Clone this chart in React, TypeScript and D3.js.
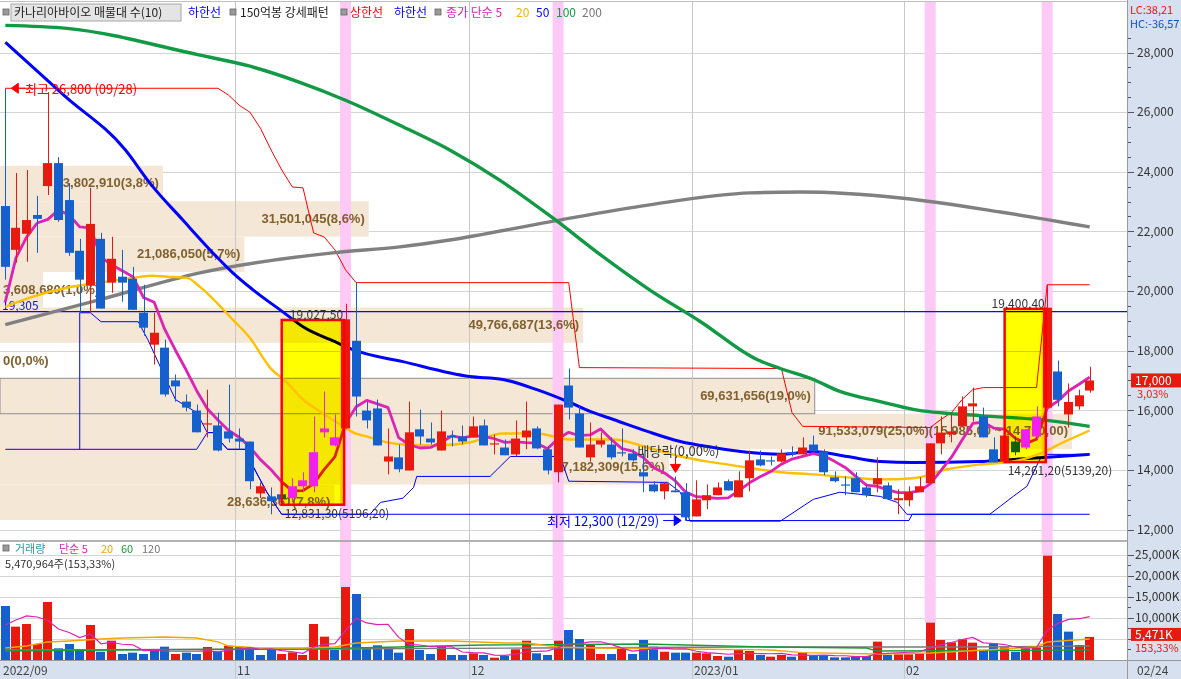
import { useEffect, useRef } from "react";
import * as d3 from "d3";

// daily candles 2022-09-28 .. 2023-02-24
const opens = [22850, 21380, 21920, 22550, 23520, 24290, 23050, 21350, 20180, 21750, 20280, 20480, 20410, 19270, 18200, 18100, 17000, 16290, 15990, 15540, 15490, 15290, 15050, 14950, 13210, 13110, 13180, 13050, 13450, 13450, 15260, 14820, 15390, 18330, 15990, 16060, 14280, 14420, 13980, 15360, 15050, 14650, 15150, 15120, 15090, 15490, 14870, 14750, 14520, 15090, 15390, 14690, 13920, 16830, 15890, 14420, 14850, 14850, 14590, 14550, 13920, 13510, 13280, 13310, 13250, 12440, 12980, 13150, 13620, 13080, 13720, 14350, 14320, 14280, 14590, 14520, 14850, 14620, 13750, 13510, 13720, 13410, 13510, 13480, 12980, 12980, 13250, 13550, 14890, 15190, 15460, 16130, 15790, 14690, 14280, 14950, 14750, 15120, 16090, 17300, 15860, 16130, 16660];
const highs = [26800, 23960, 24060, 23190, 26670, 24490, 23620, 21750, 23460, 21950, 21820, 21380, 20810, 20210, 19270, 18370, 17200, 16530, 16190, 16690, 15920, 16860, 15390, 14950, 13580, 13410, 13350, 13720, 13920, 15790, 16630, 15860, 19570, 20280, 16290, 16360, 15390, 14850, 16290, 16020, 15590, 15990, 15320, 15490, 15790, 15690, 15190, 15020, 15660, 16290, 15460, 14790, 16190, 17400, 16130, 15590, 15260, 15090, 15390, 14690, 14550, 13620, 13580, 13780, 13550, 13650, 13510, 13580, 13680, 13950, 14650, 14650, 14450, 14690, 14790, 15090, 15150, 14690, 13950, 13780, 13920, 13510, 14420, 13580, 13350, 13450, 13750, 14890, 15790, 15920, 16460, 16760, 16090, 15090, 15150, 15120, 15360, 16130, 20210, 17670, 16900, 16690, 17460];
const lows = [20380, 20950, 20980, 21280, 23220, 22320, 21180, 19270, 19270, 19410, 19940, 19640, 19370, 18500, 17530, 16460, 16290, 15960, 15260, 15090, 14620, 14920, 14690, 13350, 13050, 12510, 12830, 12910, 13250, 13250, 15090, 14790, 15390, 15790, 15390, 14820, 13850, 13920, 13980, 14850, 14850, 14650, 14790, 14850, 15090, 14820, 14520, 14490, 14450, 14690, 14690, 13850, 13580, 15690, 14750, 14280, 14750, 14350, 14450, 14280, 13250, 13250, 13010, 13250, 12300, 12440, 12680, 13150, 13310, 13080, 13280, 14120, 14150, 14250, 14450, 14520, 14620, 13820, 13580, 13150, 13250, 13080, 13250, 13020, 12510, 12780, 13250, 13550, 14520, 14920, 15460, 15620, 15090, 14250, 14260, 14490, 14690, 15020, 16090, 16130, 15420, 16020, 16590];
const closes = [20810, 22120, 22380, 22420, 24290, 22380, 21280, 20380, 22250, 19410, 21080, 20280, 19370, 18770, 18600, 16530, 16800, 16090, 15260, 15560, 14650, 15050, 14950, 13620, 13450, 12950, 13010, 13450, 13650, 14590, 15390, 15090, 19050, 16460, 15660, 14820, 14450, 14020, 15260, 15120, 14920, 15290, 15100, 14950, 15460, 14820, 14890, 14490, 15050, 15320, 14720, 13980, 16190, 16090, 14750, 14850, 14990, 14420, 14550, 14320, 13780, 13280, 13550, 13250, 12410, 13010, 13150, 13410, 13310, 13650, 14320, 14150, 14280, 14550, 14520, 14750, 14620, 13920, 13620, 13500, 13250, 13150, 13720, 13020, 13050, 13250, 13450, 14890, 15250, 15290, 16130, 16230, 15090, 14250, 15150, 14590, 15360, 15790, 19440, 16350, 16280, 16500, 17000];
// volume, thousands of shares
const volumes = [12800, 7900, 8530, 3790, 13750, 2770, 3790, 2370, 8300, 1970, 4580, 1420, 1740, 1420, 2610, 3160, 1420, 1740, 1420, 3080, 1970, 3400, 3160, 3000, 1190, 2370, 1420, 1820, 1190, 8530, 5530, 2370, 17300, 15640, 3080, 3480, 2840, 1740, 7350, 2370, 1420, 3320, 1190, 1190, 1580, 1190, 550, 950, 2530, 4580, 1580, 1190, 4580, 7110, 4980, 3560, 1420, 1420, 2770, 1420, 4740, 3160, 1970, 1740, 1740, 1740, 1580, 950, 790, 2530, 2130, 1190, 790, 1190, 790, 1740, 1030, 1030, 630, 630, 790, 950, 4350, 1190, 1340, 1340, 1580, 8850, 4740, 4190, 4900, 4110, 2370, 3950, 3000, 1970, 2770, 3000, 24730, 10900, 6720, 3560, 5471];

const patternIdx = [27, 28, 29, 30, 31, 96, 97];
const stripeIdx = [32, 52, 87, 98];

// moving averages: [candle index, value]
const ma5Head = [19640, 21110, 21810, 22280];
const ma20Pts = [[0, 19470], [2.6, 19810], [5.8, 20110], [8.9, 20280], [12, 20440], [13.9, 20510], [15.2, 20480], [17.1, 20440], [18.3, 20140], [21.4, 19040], [23, 18430], [24.9, 17430], [26.5, 16930], [28, 16360], [29.6, 15960], [31.2, 15590], [32.7, 15260], [34.3, 15090], [35.9, 14920], [37.4, 14850], [40.6, 14820], [43.7, 14920], [46.8, 15220], [50, 15220], [53.1, 15020], [57.2, 15020], [60.4, 14750], [63.5, 14450], [66.6, 14250], [69.8, 14080], [72.9, 13920], [76, 13850], [79.2, 13750], [82.3, 13680], [85.4, 13720], [88.6, 14020], [91.7, 14180], [94.8, 14280], [97.6, 14590], [99.5, 14920], [102, 15320]];
const ma50Pts = [[0, 28340], [5.6, 26540], [11.3, 24730], [13.6, 23620], [16.7, 22380], [19.9, 21140], [21.4, 20610], [23.3, 20040], [26.1, 19300], [28, 18800], [31.2, 18270], [32.7, 18030], [37.4, 17630], [43.7, 17130], [46.8, 17030], [50, 16690], [53.1, 16260], [55, 15960], [57.2, 15690], [60.4, 15290], [63.5, 14950], [66.6, 14750], [69.8, 14590], [72.9, 14520], [76, 14620], [79.2, 14450], [82.3, 14280], [85.4, 14250], [91.7, 14280], [94.8, 14350], [98, 14420], [102, 14520]];
const ma100Pts = [[0, 28910], [5.8, 28810], [18.3, 27910], [23, 27540], [27.7, 27000], [32, 26400], [37.1, 25560], [41.8, 24730], [46.5, 23720], [51.5, 22450], [56, 21210], [60.6, 20040], [65.4, 18970], [70.7, 17700], [72.9, 17400], [76, 17030], [78.5, 16630], [82.3, 16290], [85.4, 16030], [91.7, 15820], [98, 15660], [102, 15460]];
const ma200Pts = [[0, 18870], [8.9, 19710], [18.3, 20610], [30.8, 21280], [37.1, 21480], [41.8, 21710], [51.2, 22320], [60.6, 22890], [70.1, 23290], [74.8, 23320], [84.2, 23120], [93.6, 22650], [102, 22150]];

// channel lines
const upperPts = [[0, 26800], [20, 26800], [21, 26570], [22, 26230], [23, 26000], [24, 25460], [25, 24730], [26, 24060], [27, 23490], [28, 23460], [29, 21950], [30, 21810], [31, 21380], [32, 20710], [33, 20280], [53, 20280], [54, 17430], [73, 17400], [74, 15920], [75, 15460], [87, 15420], [88, 15690], [89, 15920], [90, 16360], [91, 16690], [92, 16760], [97, 16760], [98, 20210], [102, 20210]];
const lowerPtsA = [[0, 14690], [18, 14690], [19, 15250], [19.5, 15250], [20.9, 14690], [22.7, 14690], [23.3, 14120], [24.6, 13250], [26, 12510], [64, 12510], [64, 12300], [85, 12300], [85.3, 12510], [102, 12510]];
const lowerPtsB = [[7, 14690], [7, 19270], [8, 19270], [9, 18970], [12.5, 18970], [13.4, 18370], [16, 16360], [18, 15920], [19, 15250], [19.5, 15250], [20.9, 14690], [22.7, 14690], [23.3, 14120], [24.6, 13250], [26, 12510], [34.3, 12510], [35.3, 12910], [37.4, 13050], [38.4, 13410], [38.7, 13780], [45.6, 13780], [47.5, 14450], [52.2, 14450], [53, 13620], [62.3, 13580], [63.5, 13250], [64.4, 12280], [72.9, 12280], [76, 13010], [78.5, 13250], [82.3, 13110], [83.9, 12910], [84.8, 12510], [92.6, 12510], [93.6, 12780], [94.8, 13110], [96.1, 13450], [97.3, 14350], [98, 14520], [102, 14520]];
const supportLevel = 19305;

// volume moving averages
const volMa5Head = [8300, 9480, 10430, 10190];
const volMa20Pts = [[0, 2840], [2, 3320], [4, 4270], [6, 4500], [9, 4980], [11, 5210], [15, 5450], [18, 5210], [20, 4270], [21, 3320], [24, 2840], [28, 2840], [31, 3080], [33, 4030], [37, 4500], [42, 4500], [47, 4030], [49, 4030], [52, 3080], [56, 2840], [64, 2610], [72, 2370], [75, 1750], [82, 1420], [87, 1660], [97, 3080], [98, 4270], [102, 4980]];
const volMa60Pts = [[0, 2130], [10, 2370], [28, 2610], [37, 3080], [45, 3560], [60, 3790], [64, 3560], [72, 3080], [81, 2840], [82, 2130], [102, 2370]];
const volMa120Pts = [[0, 2370], [30, 2610], [50, 2840], [70, 3080], [90, 3080], [102, 3320]];

// volume profile (매물대), bottom band first
const bandTexts = ["28,636,361(7,8%)", "57,182,309(15,6%)", "91,533,079(25,0%)(15,985,00 ~ 14,790,00)", "69,631,656(19,0%)", "0(0,0%)", "49,766,687(13,6%)", "3,608,680(1,0%)", "21,086,050(5,7%)", "31,501,045(8,6%)", "13,802,910(3,8%)"];
const bandPcts = [7.8, 15.6, 25.0, 19.0, 0, 13.6, 1.0, 5.7, 8.6, 3.8];
const bandBase = 12320;
const bandStep = 1188;

const boxes = [
  { from: 26, to: 31, top: 19027.5, bottom: 12831.3, topLabel: "19,027,50", bottomLabel: "12,831,30(5196,20)" },
  { from: 94, to: 97, top: 19400.4, bottom: 14261.2, topLabel: "19,400,40", bottomLabel: "14,261,20(5139,20)" },
];

const priceTicks = d3.range(12000, 28001, 2000);
const volTicks = [5000, 10000, 15000, 20000, 25000];
const volLabelTicks = [10000, 15000, 20000, 25000];
const monthTicks = [
  { i: 0, label: "2022/09" },
  { i: 22, label: "11" },
  { i: 44, label: "12" },
  { i: 65, label: "2023/01" },
  { i: 85, label: "02" },
];

const UP = "#e8190e";
const DOWN = "#1560cc";
const PATTERN = "#f020f0";
const KF = '"Noto Sans CJK KR", "Noto Sans", sans-serif';
const NF = '"Liberation Sans", Arial, sans-serif';

export default function App() {
  const svgRef = useRef<SVGSVGElement>(null);

  useEffect(() => {
    if (!svgRef.current) return;
    const svg = d3.select(svgRef.current);
    svg.selectAll("*").remove();

    const n = closes.length;
    const plotR = 1127;
    const mainTop = 2;
    const mainBottom = 541;
    const volBottom = 660;

    const x = d3.scaleBand<number>().domain(d3.range(n)).range([0, 1095]).paddingInner(0.15).paddingOuter(0.075);
    const bw = x.bandwidth();
    const cx = (i: number) => (x(i) ?? 0) + bw / 2;
    const xi = d3.scaleLinear().domain([0, n - 1]).range([cx(0), cx(n - 1)]);
    const y = d3.scaleLinear().domain([12000, 28000]).range([529.5, 52.5]);
    const yv = d3.scaleLinear().domain([0, 25000]).range([volBottom, 554.5]);
    const bandW = d3.scaleLinear().domain([0, 25]).range([0, 1072]);

    svg.append("rect").attr("width", 1181).attr("height", 679).attr("fill", "#fff");

    // right axis panel + bottom bar
    svg.append("rect").attr("x", plotR + 1).attr("y", 0).attr("width", 1181 - plotR).attr("height", 679).attr("fill", "#d6e0ee");
    svg.append("rect").attr("x", 0).attr("y", volBottom + 1).attr("width", 1181).attr("height", 679 - volBottom).attr("fill", "#d6e0ee");

    const grid = svg.append("g").attr("stroke", "#d4d4d4").attr("stroke-width", 1);
    priceTicks.forEach((t) => {
      grid.append("line").attr("x1", 0).attr("x2", plotR).attr("y1", Math.round(y(t)) + 0.5).attr("y2", Math.round(y(t)) + 0.5);
    });
    volTicks.forEach((t) => {
      grid.append("line").attr("x1", 0).attr("x2", plotR).attr("y1", Math.round(yv(t)) + 0.5).attr("y2", Math.round(yv(t)) + 0.5);
    });

    // volume profile bands
    const bands = svg.append("g");
    const maxSide = d3.max(bandPcts.filter((v) => v !== d3.max(bandPcts)));
    bandPcts.forEach((p, k) => {
      const lo = bandBase + k * bandStep;
      const hi = lo + bandStep;
      const r = bands.append("rect")
        .attr("x", 0).attr("y", y(hi)).attr("width", bandW(p)).attr("height", y(lo) - y(hi))
        .attr("fill", "#f5e7d6");
      if (p === maxSide) r.attr("stroke", "#8c8c8c").attr("stroke-width", 1);
    });

    // month gridlines
    monthTicks.filter((m) => m.i > 0).forEach((m) => {
      const gx = Math.round(x(m.i) ?? 0) + 0.5;
      svg.append("line").attr("x1", gx).attr("x2", gx).attr("y1", mainTop).attr("y2", 679).attr("stroke", "#c8c8c8");
    });

    // highlight stripes
    stripeIdx.forEach((i) => {
      svg.append("rect").attr("x", (x(i) ?? 0) - 1).attr("y", mainTop).attr("width", bw + 2).attr("height", mainBottom - mainTop).attr("fill", "#fdcaf7");
      svg.append("rect").attr("x", (x(i) ?? 0) - 1).attr("y", mainBottom).attr("width", bw + 2).attr("height", yv(volumes[i]) - mainBottom).attr("fill", "#fdcaf7");
    });

    // band labels
    bandTexts.forEach((t, k) => {
      const lo = bandBase + k * bandStep;
      const mid = (y(lo) + y(lo + bandStep)) / 2;
      const w = bandW(bandPcts[k]);
      const txt = svg.append("text").attr("y", mid + 4).attr("font-family", NF).attr("font-weight", "bold")
        .attr("font-size", 13).attr("fill", "#80602e").text(t);
      const len = (txt.node() as SVGTextElement).getComputedTextLength();
      if (len + 8 > w) txt.attr("x", 3);
      else txt.attr("x", w - 4).attr("text-anchor", "end");
    });

    const ptLine = d3.line<number[]>().x((d) => xi(d[0])).y((d) => y(d[1]));
    const ptCurve = d3.line<number[]>().x((d) => xi(d[0])).y((d) => y(d[1])).curve(d3.curveMonotoneX);

    // support line
    svg.append("line").attr("x1", 0).attr("x2", plotR).attr("y1", y(supportLevel)).attr("y2", y(supportLevel)).attr("stroke", "#1010d0").attr("stroke-width", 1.2);
    svg.append("text").attr("x", 2).attr("y", y(supportLevel) - 2).attr("font-family", KF).attr("font-size", 12).attr("fill", "#1010e0").text("19,305");

    // channel lines
    svg.append("path").attr("d", ptLine(upperPts)).attr("fill", "none").attr("stroke", "#ff0000").attr("stroke-width", 1);
    svg.append("path").attr("d", ptLine(lowerPtsA)).attr("fill", "none").attr("stroke", "#0000ff").attr("stroke-width", 1);
    svg.append("path").attr("d", ptLine(lowerPtsB)).attr("fill", "none").attr("stroke", "#0000ff").attr("stroke-width", 1);

    // moving averages
    const maStyles: [number[][], string, number][] = [
      [ma200Pts, "#808080", 3.4],
      [ma100Pts, "#119944", 3.4],
      [ma50Pts, "#0000ff", 3],
      [ma20Pts, "#ffc000", 2.4],
    ];
    maStyles.forEach(([pts, c, w]) => {
      svg.append("path").attr("d", ptCurve(pts)).attr("fill", "none").attr("stroke", c).attr("stroke-width", w);
    });
    const ma5 = closes.map((_, i) => (i < 4 ? ma5Head[i] : (d3.mean(closes.slice(i - 4, i + 1)) as number)));
    svg.append("path")
      .attr("d", d3.line<number>().x((_, i) => cx(i)).y((d) => y(d))(ma5))
      .attr("fill", "none").attr("stroke", "#dd22b4").attr("stroke-width", 2.8).attr("stroke-linejoin", "round");

    // candles
    const drawCandle = (g: d3.Selection<SVGGElement, unknown, null, undefined>, i: number, color: string) => {
      const o = opens[i], c = closes[i];
      g.append("line").attr("x1", Math.round(cx(i)) + 0.5).attr("x2", Math.round(cx(i)) + 0.5)
        .attr("y1", y(highs[i])).attr("y2", y(lows[i])).attr("stroke", color).attr("stroke-width", 1);
      const top = y(Math.max(o, c));
      const h = Math.max(1.2, y(Math.min(o, c)) - top);
      g.append("rect").attr("x", Math.round(x(i) ?? 0)).attr("y", top).attr("width", Math.round(bw)).attr("height", h).attr("fill", color);
    };
    const candles = svg.append("g");
    d3.range(n).filter((i) => !patternIdx.includes(i)).forEach((i) => drawCandle(candles, i, closes[i] >= opens[i] ? UP : DOWN));

    // 150억봉 boxes
    boxes.forEach((b) => {
      const x0 = cx(b.from);
      const x1 = cx(b.to) + 0.87 * x.step();
      svg.append("rect").attr("x", x0).attr("y", y(b.top)).attr("width", x1 - x0).attr("height", y(b.bottom) - y(b.top))
        .attr("fill", "#ffff00").style("mix-blend-mode", "multiply");
    });
    const pat = svg.append("g");
    patternIdx.forEach((i) => drawCandle(pat, i, PATTERN));
    boxes.forEach((b) => {
      const x0 = cx(b.from);
      const x1 = cx(b.to) + 0.87 * x.step();
      svg.append("rect").attr("x", x0).attr("y", y(b.top)).attr("width", x1 - x0).attr("height", y(b.bottom) - y(b.top))
        .attr("fill", "none").attr("stroke", "#ff0000").attr("stroke-width", 2.5);
      svg.append("text").attr("x", x1 - 1).attr("y", y(b.top) - 1).attr("text-anchor", "end").attr("font-family", KF)
        .attr("font-size", 12).attr("fill", "#333").text(b.topLabel);
      svg.append("text").attr("x", x0 + 3).attr("y", y(b.bottom) + 13).attr("font-family", KF)
        .attr("font-size", 12).attr("fill", "#333").text(b.bottomLabel);
    });

    // high / low annotations
    const hiY = y(highs[0]);
    svg.append("path").attr("d", `M${cx(0) + 6},${hiY} l7,-5 v10 z M${cx(0) + 12},${hiY} h8`).attr("fill", "#ff0000").attr("stroke", "#ff0000");
    svg.append("text").attr("x", 25).attr("y", hiY + 6).attr("font-family", KF).attr("font-size", 13).attr("fill", "#ff0000").text("최고 26,800 (09/28)");
    const loI = lows.indexOf(d3.min(lows) as number);
    const loY = y(lows[loI]);
    const tipX = x(loI) ?? 0;
    svg.append("path").attr("d", `M${tipX - 18},${loY} h12 M${tipX},${loY} l-7,-5 v10 z`).attr("fill", "#0000ff").attr("stroke", "#0000ff");
    svg.append("text").attr("x", tipX - 22).attr("y", loY + 5).attr("text-anchor", "end").attr("font-family", KF).attr("font-size", 13).attr("fill", "#0000ff").text("최저 12,300 (12/29)");

    // ex-dividend marker
    const exI = 63;
    const exX = Math.round(cx(exI)) + 0.5;
    svg.append("text").attr("x", exX - 38).attr("y", y(highs[exI]) - 20).attr("font-family", KF).attr("font-size", 13).attr("fill", "#333").text("배당락(0,00%)");
    svg.append("path").attr("d", `M${exX},${y(highs[exI]) - 20} v8 M${exX - 5},${y(highs[exI]) - 12} h10 l-5,8 z`).attr("fill", "#ff0000").attr("stroke", "#ff0000");

    // volume pane
    svg.append("line").attr("x1", 0).attr("x2", plotR).attr("y1", mainBottom).attr("y2", mainBottom).attr("stroke", "#9a9a9a").attr("stroke-width", 1.5);
    svg.append("line").attr("x1", 0).attr("x2", 1181).attr("y1", volBottom + 0.5).attr("y2", volBottom + 0.5).attr("stroke", "#9a9a9a");
    svg.append("g").selectAll("rect").data(volumes).join("rect")
      .attr("x", (_, i) => Math.round(x(i) ?? 0)).attr("y", (d) => yv(d)).attr("width", Math.round(bw))
      .attr("height", (d) => volBottom - yv(d))
      .attr("fill", (_, i) => (i === 0 ? (closes[0] >= opens[0] ? UP : DOWN) : closes[i] > closes[i - 1] ? UP : DOWN));

    const vLine = d3.line<number[]>().x((d) => xi(d[0])).y((d) => yv(d[1]));
    [[volMa120Pts, "#7a7a7a"], [volMa60Pts, "#1a9a3a"], [volMa20Pts, "#f0a800"]].forEach(([pts, c]) => {
      svg.append("path").attr("d", vLine(pts as number[][])).attr("fill", "none").attr("stroke", c as string).attr("stroke-width", 1.3);
    });
    const volMa5 = volumes.map((_, i) => (i < 4 ? volMa5Head[i] : (d3.mean(volumes.slice(i - 4, i + 1)) as number)));
    svg.append("path").attr("d", d3.line<number>().x((_, i) => cx(i)).y((d) => yv(d))(volMa5))
      .attr("fill", "none").attr("stroke", "#dd22b4").attr("stroke-width", 1.2);

    // right axis
    svg.append("line").attr("x1", plotR + 0.5).attr("x2", plotR + 0.5).attr("y1", 0).attr("y2", 679).attr("stroke", "#9a9a9a");
    const ax = svg.append("g").attr("font-family", KF).attr("font-size", 12).attr("fill", "#333");
    d3.range(12000, 28501, 500).forEach((t) => {
      const ty = Math.round(y(t)) + 0.5;
      ax.append("line").attr("x1", plotR + 1).attr("x2", plotR + (t % 2000 === 0 ? 7 : 4)).attr("y1", ty).attr("y2", ty).attr("stroke", "#555");
    });
    priceTicks.forEach((t) => {
      ax.append("text").attr("x", 1137).attr("y", y(t)).attr("dy", "0.36em").text(d3.format(",")(t));
    });
    d3.range(2500, 25001, 2500).forEach((t) => {
      const ty = Math.round(yv(t)) + 0.5;
      ax.append("line").attr("x1", plotR + 1).attr("x2", plotR + (t % 5000 === 0 ? 7 : 4)).attr("y1", ty).attr("y2", ty).attr("stroke", "#555");
    });
    volLabelTicks.forEach((t) => {
      ax.append("text").attr("x", 1135).attr("y", yv(t)).attr("dy", "0.36em").text(d3.format(",")(t) + "K");
    });

    // last price / last volume tags
    const last = n - 1;
    svg.append("rect").attr("x", 1131).attr("y", y(closes[last]) - 7).attr("width", 50).attr("height", 14).attr("fill", UP);
    svg.append("text").attr("x", 1135).attr("y", y(closes[last])).attr("dy", "0.36em").attr("font-family", KF).attr("font-size", 12).attr("fill", "#fff").text(d3.format(",")(closes[last]));
    svg.append("text").attr("x", 1137).attr("y", y(closes[last]) + 18).attr("font-family", KF).attr("font-size", 11).attr("fill", UP).text("3,03%");
    svg.append("rect").attr("x", 1131).attr("y", yv(volumes[last]) - 9).attr("width", 50).attr("height", 13).attr("fill", UP);
    svg.append("text").attr("x", 1135).attr("y", yv(volumes[last]) - 2.5).attr("dy", "0.36em").attr("font-family", KF).attr("font-size", 12).attr("fill", "#fff").text(d3.format(",")(volumes[last]) + "K");
    svg.append("text").attr("x", 1135).attr("y", yv(volumes[last]) + 15).attr("font-family", KF).attr("font-size", 11).attr("fill", UP).text("153,33%");
    svg.append("text").attr("x", 1130).attr("y", 14).attr("font-family", KF).attr("font-size", 11).attr("fill", "#ee1111").text("LC:38,21");
    svg.append("text").attr("x", 1130).attr("y", 28).attr("font-family", KF).attr("font-size", 11).attr("fill", "#1050d0").text("HC:-36,57");

    // bottom axis
    monthTicks.forEach((m) => {
      svg.append("text").attr("x", Math.round(x(m.i) ?? 0) + 2).attr("y", 675).attr("font-family", KF).attr("font-size", 12).attr("fill", "#444").text(m.label);
    });
    svg.append("text").attr("x", 1137).attr("y", 675).attr("font-family", KF).attr("font-size", 12).attr("fill", "#444").text("02/24");

    // top frame + legends
    svg.append("line").attr("x1", 0).attr("x2", plotR).attr("y1", 1.5).attr("y2", 1.5).attr("stroke", "#c0c0c0");
    const lg = svg.append("g").attr("font-family", KF).attr("font-size", 12);
    const sq = (sx: number, sy: number) => lg.append("rect").attr("x", sx).attr("y", sy).attr("width", 6).attr("height", 6).attr("fill", "#9a9a9a").attr("stroke", "#666").attr("stroke-width", 0.8);
    sq(3, 9);
    lg.append("rect").attr("x", 11).attr("y", 4).attr("width", 170).attr("height", 17).attr("fill", "#e4e4e4").attr("stroke", "#a8a8a8");
    const legendItems: [number, string, string][] = [
      [14, "카나리아바이오 매물대 수(10)", "#222"],
      [188, "하한선", "#0000ff"],
      [240, "150억봉 강세패턴", "#222"],
      [350, "상한선", "#ff0000"],
      [394, "하한선", "#0000ff"],
      [446, "종가 단순 5", "#dd22b4"],
      [516, "20", "#f0b400"],
      [536, "50", "#0000ff"],
      [556, "100", "#119944"],
      [582, "200", "#777"],
    ];
    legendItems.forEach(([lx, t, c]) => lg.append("text").attr("x", lx).attr("y", 17).attr("fill", c).text(t));
    sq(230, 9);
    sq(341, 9);
    sq(435, 9);

    const vlg = svg.append("g").attr("font-family", KF).attr("font-size", 11);
    vlg.append("rect").attr("x", 3).attr("y", 545).attr("width", 6).attr("height", 6).attr("fill", "#9a9a9a").attr("stroke", "#666").attr("stroke-width", 0.8);
    const volLegend: [number, string, string][] = [
      [15, "거래량", "#2a9a9a"],
      [59, "단순 5", "#dd22b4"],
      [101, "20", "#f0a800"],
      [121, "60", "#1a9a3a"],
      [142, "120", "#777"],
    ];
    volLegend.forEach(([lx, t, c]) => vlg.append("text").attr("x", lx).attr("y", 553).attr("fill", c).text(t));
    vlg.append("text").attr("x", 5).attr("y", 568).attr("fill", "#333").text("5,470,964주(153,33%)");
  }, []);

  return <svg ref={svgRef} width={1181} height={679} style={{ position: "absolute", left: 0, top: 0, display: "block" }} />;
}
